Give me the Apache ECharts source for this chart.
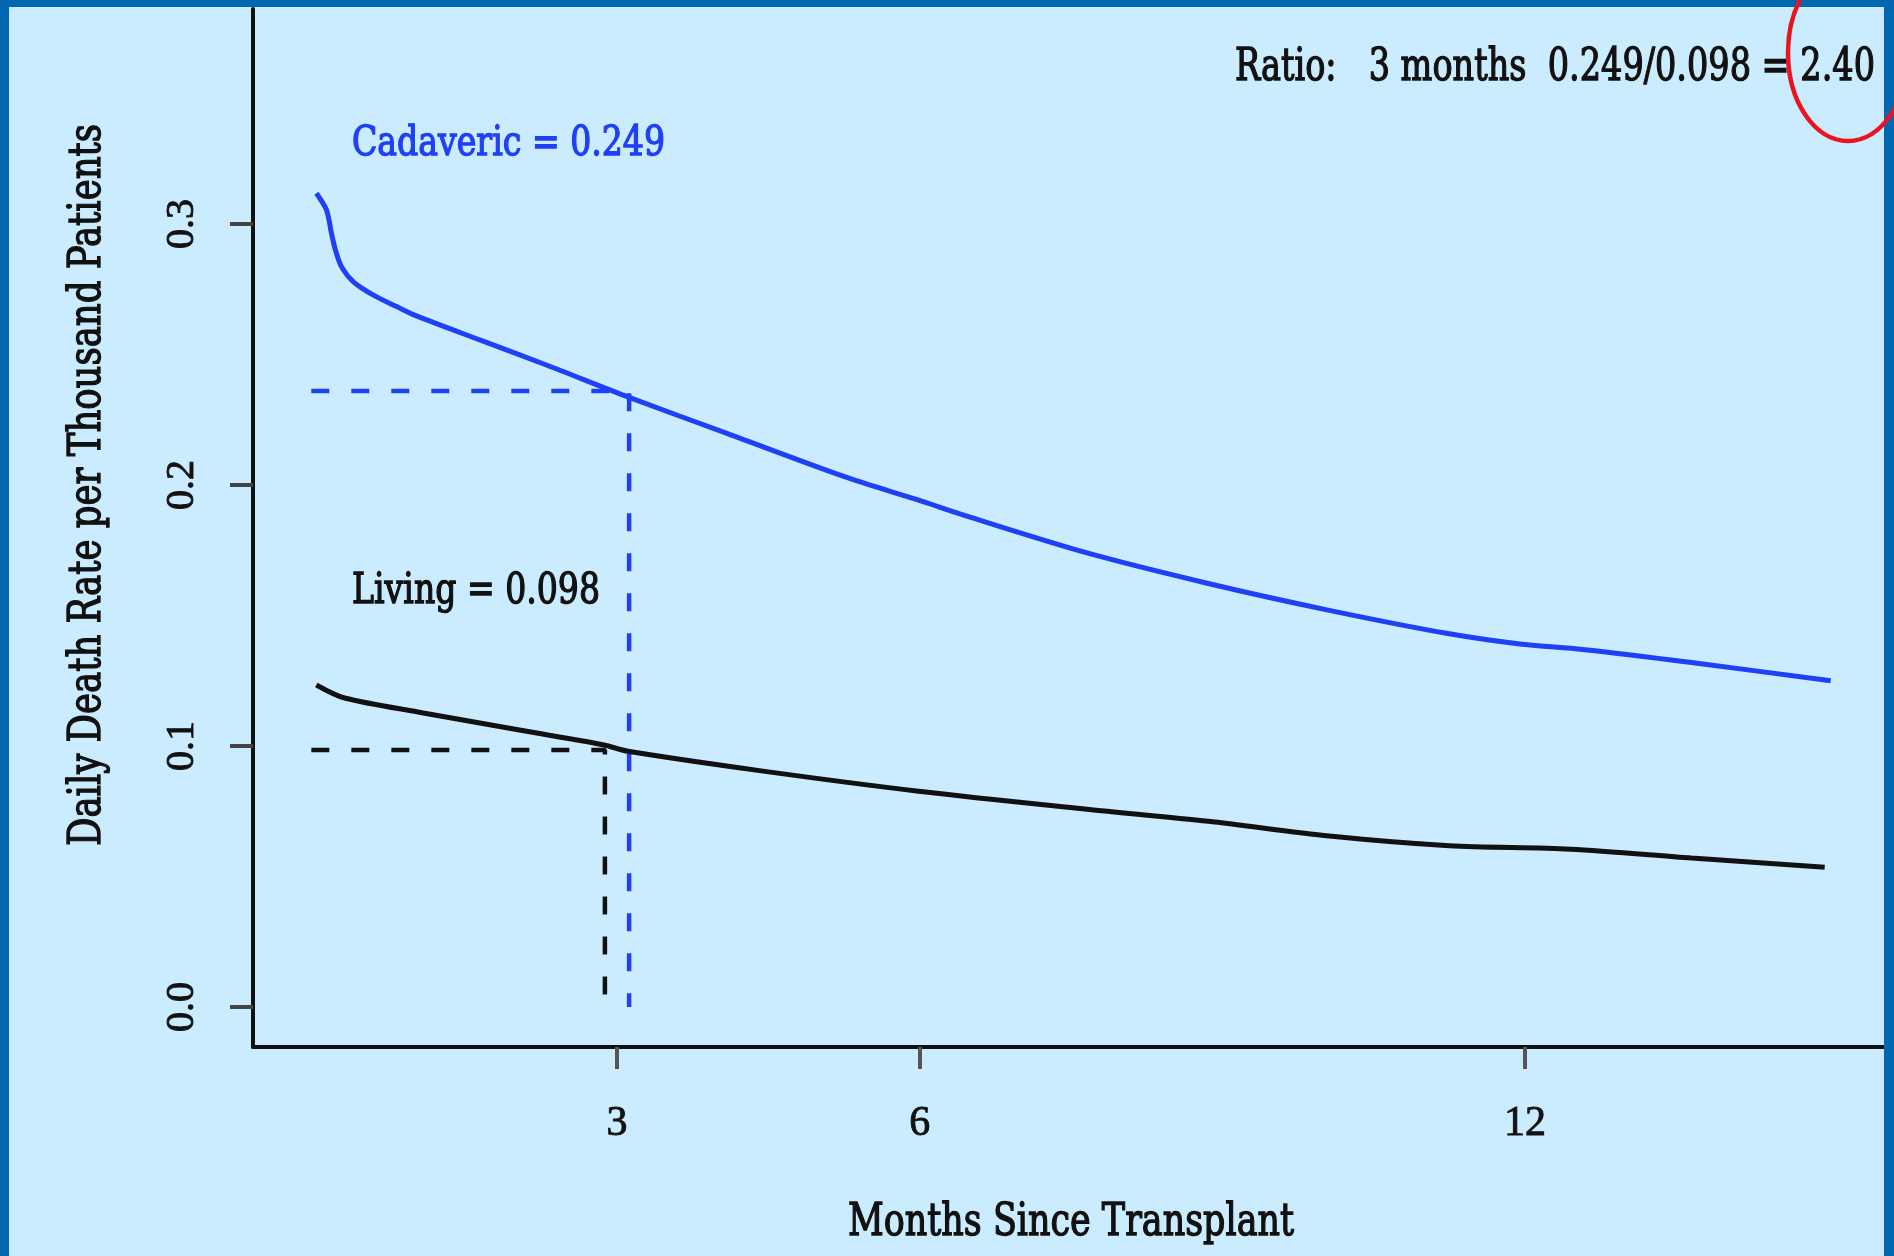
<!DOCTYPE html>
<html>
<head>
<meta charset="utf-8">
<script src="https://cdn.jsdelivr.net/npm/echarts@6/dist/echarts.min.js"></script>
<style>
html,body{margin:0;padding:0;background:#CBEBFE;}
#chart{width:1894px;height:1256px;}
</style>
</head>
<body>
<div id="chart"></div>
<script>
// ---- data ----
const cadavericX = [0.02, 0.12, 0.17, 0.21, 0.27, 0.39, 0.59, 0.82, 1.0, 1.64, 2.30, 3.12, 4.09, 5.27, 5.99, 6.46, 7.66, 8.86, 10.06, 11.25, 11.97, 12.57, 13.65, 15.03];
const cadavericY = [0.3118, 0.3054, 0.2964, 0.2900, 0.2836, 0.2778, 0.2727, 0.2683, 0.2650, 0.2556, 0.2460, 0.2336, 0.2198, 0.2030, 0.1942, 0.1882, 0.1740, 0.1623, 0.1520, 0.1430, 0.1390, 0.1370, 0.1320, 0.1250];
const livingX = [0.02, 0.30, 1.08, 1.92, 2.87, 3.11, 4.43, 5.99, 7.66, 8.86, 10.06, 11.25, 12.45, 13.65, 14.97];
const livingY = [0.1234, 0.1184, 0.1127, 0.1069, 0.1004, 0.0980, 0.0905, 0.0827, 0.0758, 0.0712, 0.0655, 0.0618, 0.0605, 0.0571, 0.0536];
const cadRefX = [-0.03, 3.12, 3.12];
const cadRefY = [0.236, 0.236, 0];
const livRefX = [-0.03, 2.88, 2.88];
const livRefY = [0.0985, 0.0985, 0];
const xTicks = [3, 6, 12];
const yTicks = [0, 0.1, 0.2, 0.3];
const yTickLabels = ['0.0', '0.1', '0.2', '0.3'];
const cadLabel = 'Cadaveric = 0.249';
const livLabel = 'Living = 0.098';
const ratioLabel = 'Ratio:   3 months  0.249/0.098 = 2.40';
const xName = 'Months Since Transplant';
const yName = 'Daily Death Rate per Thousand Patients';

// ---- helpers ----
const zip = (xs, ys) => xs.map((x, i) => [x, ys[i]]);
const mctx = document.createElement('canvas').getContext('2d');
const SERIF = '"DejaVu Serif"';
function fitScale(str, size, targetW) {
  mctx.font = size + 'px ' + SERIF;
  return targetW / mctx.measureText(str).width;
}
function hText(str, left, baseline, cap, width, color) {
  const F = cap / 0.729;
  return {
    type: 'text', x: left, y: baseline - 0.25 * F, scaleX: fitScale(str, F, width), z: 50,
    style: { text: str, fontSize: F, fontFamily: SERIF, fill: color, stroke: color, lineWidth: 1.4, textAlign: 'left', verticalAlign: 'middle', textVerticalAlign: 'middle' }
  };
}

const BLUE = '#1f40f5';
const INK = '#111111';
const BORDER = '#0067B1';

const yF = 32 / 0.729;
const chart = echarts.init(document.getElementById('chart'), null, { renderer: 'canvas' });
chart.setOption({
  backgroundColor: '#CBEBFE',
  animation: false,
  grid: { left: 253, top: 9, right: 0, bottom: 209, containLabel: false },
  xAxis: {
    type: 'value', min: -0.608, max: 15.657,
    axisLine: { show: true, onZero: false, lineStyle: { color: INK, width: 4 } },
    axisTick: { show: true, customValues: xTicks, length: 22, lineStyle: { color: '#555', width: 4 } },
    axisLabel: { customValues: xTicks, margin: 77, verticalAlign: 'middle', fontFamily: '"Liberation Serif"', fontSize: 42, color: INK, textBorderColor: INK, textBorderWidth: 0.9 },
    splitLine: { show: false }
  },
  yAxis: {
    type: 'value', min: -0.0153, max: 0.3824,
    axisLine: { show: true, onZero: false, lineStyle: { color: INK, width: 4 } },
    axisTick: { show: true, customValues: yTicks, length: 23, lineStyle: { color: '#444', width: 4 } },
    axisLabel: {
      customValues: yTicks, rotate: 90, margin: 71, align: 'center', verticalAlign: 'middle',
      fontFamily: '"Liberation Serif"', fontSize: 40, color: INK, textBorderColor: INK, textBorderWidth: 0.9,
      formatter: v => yTickLabels[yTicks.findIndex(t => Math.abs(t - v) < 1e-9)]
    },
    splitLine: { show: false }
  },
  series: [
    { type: 'line', data: zip(cadRefX, cadRefY), symbol: 'none', lineStyle: { color: BLUE, width: 4.5, type: [18, 22] }, z: 3 },
    { type: 'line', data: zip(livRefX, livRefY), symbol: 'none', lineStyle: { color: INK, width: 4.5, type: [18, 22] }, z: 3 },
    { type: 'line', name: 'Cadaveric', data: zip(cadavericX, cadavericY), symbol: 'none', smooth: 0.3, lineStyle: { color: BLUE, width: 5 }, z: 4 },
    { type: 'line', name: 'Living', data: zip(livingX, livingY), symbol: 'none', smooth: 0.3, lineStyle: { color: INK, width: 5 }, z: 4 }
  ],
  graphic: [
    hText(cadLabel, 352, 155, 30, 313, BLUE),
    hText(livLabel, 352, 603, 31, 248, INK),
    hText(ratioLabel, 1235, 80, 32, 640, INK),
    hText(xName, 848, 1235, 32, 446, INK),
    {
      type: 'text', x: 100 - 0.25 * yF, y: 485, rotation: Math.PI / 2, scaleX: fitScale(yName, yF, 722), z: 50,
      style: { text: yName, fontSize: yF, fontFamily: SERIF, fill: INK, stroke: INK, lineWidth: 1.4, textAlign: 'center', verticalAlign: 'middle', textVerticalAlign: 'middle' }
    },
    { type: 'rect', shape: { x: 0, y: 0, width: 1894, height: 7 }, style: { fill: BORDER }, z: 100 },
    { type: 'rect', shape: { x: 0, y: 0, width: 9, height: 1256 }, style: { fill: BORDER }, z: 100 },
    { type: 'rect', shape: { x: 1884, y: 0, width: 10, height: 1256 }, style: { fill: BORDER }, z: 100 },
    { type: 'ellipse', shape: { cx: 1848, cy: 53, rx: 60, ry: 88 }, style: { fill: 'none', stroke: '#E8141E', lineWidth: 4.5 }, z: 101 }
  ]
});
</script>
</body>
</html>
